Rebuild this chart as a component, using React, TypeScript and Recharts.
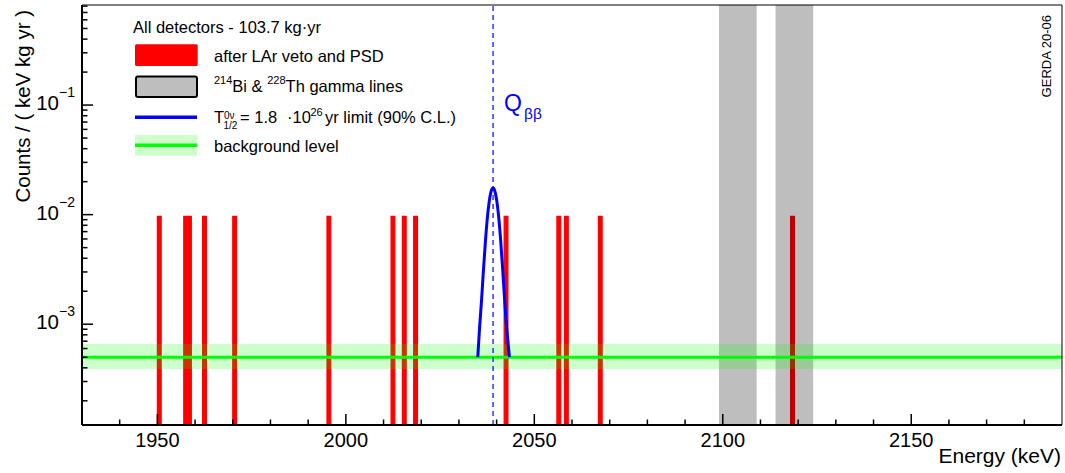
import React from 'react';
import { ComposedChart, XAxis, YAxis, Line, ReferenceArea, ReferenceLine } from 'recharts';

const W = 1065;
const H = 473;
const FONT = '"Liberation Sans", Arial, Helvetica, sans-serif';

// axes
const xDomain = [1930, 2190];
const yDomain = [1.203e-4, 0.819];
const xTicks = [1940, 1950, 1960, 1970, 1980, 1990, 2000, 2010, 2020, 2030, 2040, 2050, 2060, 2070, 2080, 2090, 2100, 2110, 2120, 2130, 2140, 2150, 2160, 2170, 2180];
const xMajorTicks = [1950, 2000, 2050, 2100, 2150];
const yTicks = [
  2e-4, 3e-4, 4e-4, 5e-4, 6e-4, 7e-4, 8e-4, 9e-4,
  1e-3, 2e-3, 3e-3, 4e-3, 5e-3, 6e-3, 7e-3, 8e-3, 9e-3,
  1e-2, 2e-2, 3e-2, 4e-2, 5e-2, 6e-2, 7e-2, 8e-2, 9e-2,
  1e-1, 2e-1, 3e-1, 4e-1, 5e-1, 6e-1, 7e-1, 8e-1,
];
const yMajorTicks = [1e-3, 1e-2, 1e-1];
const yMajorExponents = ['\u22123', '\u22122', '\u22121'];

// events after LAr veto and PSD (1 keV bins)
const eventBins = [1950, 1957, 1958, 1962, 1970, 1995, 2012, 2015, 2018, 2042, 2056, 2058, 2067, 2118];
const eventHeights = [0.00964, 0.00964, 0.00964, 0.00964, 0.00964, 0.00964, 0.00964, 0.00964, 0.00964, 0.00964, 0.00964, 0.00964, 0.00964, 0.00964];
const binWidth = 1;

// gamma lines (214Bi, 208Tl from 228Th)
const gammaLow = [2099, 2114];
const gammaHigh = [2109, 2124];

// background level
const bkgLevel = 5.0e-4;
const bkgLow = 3.9e-4;
const bkgHigh = 6.6e-4;

// Q_bb and limit signal
const qbb = 2039.06;
const peakEnergies = [2035.0, 2035.5, 2036.0, 2036.5, 2037.0, 2037.5, 2038.0, 2038.5, 2039.06, 2039.5, 2040.0, 2040.5, 2041.0, 2041.5, 2042.0, 2042.5, 2043.0, 2043.4];
const peakValues = [0.0005, 0.00095, 0.00165, 0.0031, 0.0055, 0.009, 0.0129, 0.0161, 0.0175, 0.01655, 0.0137, 0.0099, 0.0063, 0.00360, 0.00195, 0.00108, 0.00070, 0.0005];

const peakData = peakEnergies.map((e, i) => ({ e, v: peakValues[i] }));

const XTick = (props: any) => {
  const { x, y, payload } = props;
  const v = payload.value;
  const major = xMajorTicks.includes(v);
  return (
    <g>
      <line x1={x} x2={x} y1={y} y2={y - (major ? 11 : 5.5)} stroke="#000" strokeWidth={1.5} />
      {major && (
        <text x={x} y={y + 22} textAnchor="middle" fontSize={20} fontFamily={FONT} fill="#000">
          {v}
        </text>
      )}
    </g>
  );
};

const YTick = (props: any) => {
  const { x, y, payload } = props;
  const v = payload.value;
  const idx = yMajorTicks.findIndex((m) => Math.abs(m - v) / m < 1e-6);
  const major = idx >= 0;
  return (
    <g>
      <line x1={x} x2={x + (major ? 11 : 5.5)} y1={y} y2={y} stroke="#000" strokeWidth={1.5} />
      {major && (
        <text x={x - 7} y={y + 5} textAnchor="end" fontSize={20.5} fontFamily={FONT} fill="#000">
          10
          <tspan dy={-13} fontSize={14}>{yMajorExponents[idx]}</tspan>
        </text>
      )}
    </g>
  );
};

export default function App() {
  return (
    <div style={{ position: 'absolute', left: 0, top: 0, width: W, height: H, background: '#fff' }}>
      <ComposedChart width={W} height={H} margin={{ top: 5, right: 3, bottom: 0, left: 0 }}>
        <XAxis
          type="number"
          dataKey="e"
          domain={xDomain}
          allowDataOverflow
          ticks={xTicks}
          interval={0}
          height={48}
          tickSize={0}
          tickMargin={0}
          tickLine={false}
          tick={<XTick />}
          axisLine={{ stroke: '#000', strokeWidth: 2 }}
        />
        <YAxis
          type="number"
          scale="log"
          domain={yDomain}
          allowDataOverflow
          ticks={yTicks}
          interval={0}
          width={82}
          tickSize={0}
          tickMargin={0}
          tickLine={false}
          tick={<YTick />}
          axisLine={{ stroke: '#000', strokeWidth: 2 }}
        />
        {eventBins.map((b, i) => (
          <ReferenceArea
            key={'ev' + i}
            x1={b}
            x2={b + binWidth}
            y1={yDomain[0]}
            y2={eventHeights[i]}
            fill="#ff0000"
            fillOpacity={1}
            stroke="#ff0000"
            strokeWidth={1.2}
          />
        ))}
        {gammaLow.map((lo, i) => (
          <ReferenceArea
            key={'g' + i}
            x1={lo}
            x2={gammaHigh[i]}
            y1={yDomain[0]}
            y2={yDomain[1]}
            fill="#000000"
            fillOpacity={0.255}
            stroke="none"
          />
        ))}
        <ReferenceArea y1={bkgLow} y2={bkgHigh} fill="#00ff00" fillOpacity={0.2} stroke="none" />
        <ReferenceLine y={bkgLevel} stroke="#00ff00" strokeWidth={3} />
        <ReferenceLine x={qbb} stroke="#0000ff" strokeWidth={1.2} strokeDasharray="5 4" />
        <Line
          data={peakData}
          dataKey="v"
          type="monotone"
          stroke="#0000ff"
          strokeWidth={3}
          dot={false}
          activeDot={false}
          isAnimationActive={false}
        />
        <ReferenceLine y={yDomain[1]} stroke="#000" strokeWidth={1} />
        <ReferenceLine x={xDomain[1]} stroke="#000" strokeWidth={1} />
      </ComposedChart>
      <svg
        width={W}
        height={H}
        style={{ position: 'absolute', left: 0, top: 0, pointerEvents: 'none' }}
        fontFamily={FONT}
      >
        {/* axis titles */}
        <text transform="translate(29.5, 10) rotate(-90)" textAnchor="end" fontSize={20.5} fill="#000">
          Counts / ( keV kg yr )
        </text>
        <text x={1061} y={463} textAnchor="end" fontSize={21} fill="#000">
          Energy (keV)
        </text>
        {/* GERDA tag */}
        <text transform="translate(1050.5, 15) rotate(-90)" textAnchor="end" fontSize={13} fill="#000">
          GERDA 20-06
        </text>
        {/* Q_bb label */}
        <text x={504} y={110.7} fontSize={23} fill="#0000ff">Q</text>
        <text x={524} y={118.5} fontSize={15.5} fill="#0000ff">ββ</text>
        {/* legend */}
        <text x={133} y={32.7} fontSize={16.5} fill="#000">All detectors - 103.7 kg·yr</text>
        <rect x={135} y={44.3} width={62.7} height={21.7} fill="#ff0000" rx={1.5} />
        <text x={214} y={62.3} fontSize={16.5} fill="#000">after LAr veto and PSD</text>
        <rect x={136} y={76.5} width={61} height={20.5} fill="#bebebe" stroke="#000" strokeWidth={2} rx={2} />
        <text x={214} y={91.7} fontSize={16.5} fill="#000">
          <tspan fontSize={11} dy={-7.7}>214</tspan>
          <tspan dy={7.7}>Bi &amp; </tspan>
          <tspan fontSize={11} dy={-7.7}>228</tspan>
          <tspan dy={7.7}>Th gamma lines</tspan>
        </text>
        <line x1={135} x2={197} y1={117.3} y2={117.3} stroke="#0000ff" strokeWidth={3.5} />
        <text fontSize={16.5} fill="#000">
          <tspan x={214} y={123}>T</tspan>
          <tspan x={224} y={118.5} fontSize={10}>0ν</tspan>
          <tspan x={223.5} y={128.5} fontSize={10}>1/2</tspan>
          <tspan x={240} y={123}>= 1.8</tspan>
          <tspan x={287} y={123}>·10</tspan>
          <tspan x={310.5} y={116} fontSize={11}>26</tspan>
          <tspan x={325} y={123}>yr limit (90% C.L.)</tspan>
        </text>
        <rect x={135} y={135} width={62} height={20.7} fill="#ccffcc" />
        <line x1={135} x2={197} y1={145.3} y2={145.3} stroke="#00ff00" strokeWidth={3.5} />
        <text x={214} y={152} fontSize={16.5} fill="#000">background level</text>
      </svg>
    </div>
  );
}
